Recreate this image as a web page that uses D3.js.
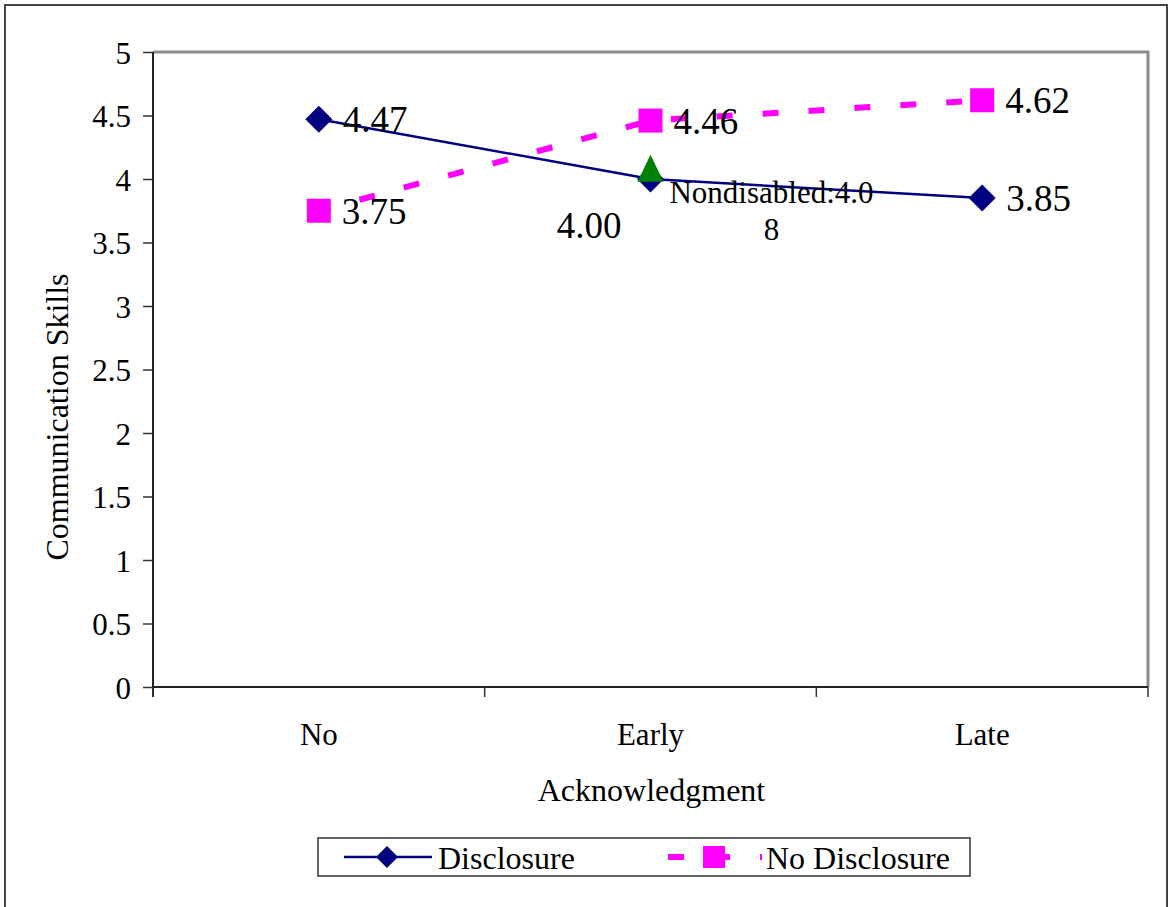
<!DOCTYPE html>
<html>
<head>
<meta charset="utf-8">
<script src="https://cdn.jsdelivr.net/npm/d3@7"></script>
<style>
  body { margin: 0; background: #fff; }
  svg { display: block; }
  text { font-family: "Liberation Serif", "Times New Roman", serif; fill: #000; }
</style>
</head>
<body>
<svg width="1168" height="907"></svg>
<script>
// data
var categories = ["No", "Early", "Late"];
var disclosure = [4.47, 4.00, 3.85];
var noDisclosure = [3.75, 4.46, 4.62];
var nondisabledCat = "Early";
var nondisabledVal = 4.08;
var yTicks = [0, 0.5, 1, 1.5, 2, 2.5, 3, 3.5, 4, 4.5, 5];
var seriesNames = ["Disclosure", "No Disclosure"];

var svg = d3.select("svg");
var plot = {left: 153, right: 1148, top: 52, bottom: 687};

var x = d3.scaleBand().domain(categories).range([plot.left, plot.right]).padding(0);
var y = d3.scaleLinear().domain([0, 5]).range([plot.bottom, plot.top]);
var cx = function(c) { return x(c) + x.bandwidth() / 2; };

// outer frame
svg.append("rect")
    .attr("x", 5).attr("y", 5)
    .attr("width", 1162).attr("height", 920)
    .attr("fill", "none").attr("stroke", "#444").attr("stroke-width", 2);

// plot border (top/right gray)
svg.append("path")
    .attr("d", "M" + plot.left + "," + plot.top + "H" + plot.right + "V" + plot.bottom)
    .attr("fill", "none").attr("stroke", "#8c8c8c").attr("stroke-width", 3);

// y axis
var yAxis = d3.axisLeft(y).tickValues(yTicks).tickSize(10).tickSizeOuter(0)
    .tickPadding(12).tickFormat(d3.format(""));
var gy = svg.append("g").attr("transform", "translate(" + plot.left + ",0)").call(yAxis);
gy.attr("font-family", null);
gy.select(".domain").remove();
gy.selectAll("line").attr("stroke", "#333").attr("stroke-width", 1.5);
gy.selectAll("text").style("font-size", "31px").attr("dy", "0.36em");

svg.append("line")
    .attr("x1", plot.left).attr("x2", plot.left)
    .attr("y1", plot.top).attr("y2", plot.bottom + 10)
    .attr("stroke", "#222").attr("stroke-width", 2);

// x axis
var xAxis = d3.axisBottom(x).tickSize(0).tickPadding(58);
var gx = svg.append("g").attr("transform", "translate(0," + plot.bottom + ")").call(xAxis);
gx.attr("font-family", null);
gx.select(".domain").remove();
gx.selectAll("text").style("font-size", "31px").attr("dy", "0");

svg.append("line")
    .attr("x1", plot.left).attr("x2", plot.right)
    .attr("y1", plot.bottom).attr("y2", plot.bottom)
    .attr("stroke", "#222").attr("stroke-width", 2);

var bounds = categories.map(function(c) { return x(c); }).concat([x.range()[1]]);
svg.selectAll(".xtick").data(bounds).enter().append("line")
    .attr("class", "xtick")
    .attr("x1", function(d) { return d; }).attr("x2", function(d) { return d; })
    .attr("y1", plot.bottom).attr("y2", plot.bottom + 10)
    .attr("stroke", "#333").attr("stroke-width", 1.5);

// axis titles
svg.append("text")
    .attr("x", (plot.left + plot.right) / 2 + 1).attr("y", 801)
    .attr("text-anchor", "middle").style("font-size", "32px")
    .text("Acknowledgment");

svg.append("text")
    .attr("transform", "translate(68,417) rotate(-90)")
    .attr("text-anchor", "middle").style("font-size", "32px")
    .text("Communication Skills");

// lines
var line = d3.line()
    .x(function(d, i) { return cx(categories[i]); })
    .y(function(d) { return y(d); });

svg.append("path")
    .datum(noDisclosure)
    .attr("d", line)
    .attr("fill", "none").attr("stroke", "#ff00ff").attr("stroke-width", 6)
    .attr("stroke-dasharray", "16,30").attr("stroke-dashoffset", -42);

svg.append("path")
    .datum(disclosure)
    .attr("d", line)
    .attr("fill", "none").attr("stroke", "#000080").attr("stroke-width", 2.5);

// markers
var diamond = function(s) { return "M0," + (-s) + "L" + s + ",0L0," + s + "L" + (-s) + ",0Z"; };

svg.selectAll(".dmark").data(disclosure).enter().append("path")
    .attr("class", "dmark")
    .attr("transform", function(d, i) { return "translate(" + cx(categories[i]) + "," + y(d) + ")"; })
    .attr("d", diamond(13.5))
    .attr("fill", "#000080");

svg.selectAll(".smark").data(noDisclosure).enter().append("rect")
    .attr("class", "smark")
    .attr("x", function(d, i) { return cx(categories[i]) - 12; })
    .attr("y", function(d) { return y(d) - 12; })
    .attr("width", 24).attr("height", 24)
    .attr("fill", "#ff00ff");

// nondisabled reference
var tx = cx(nondisabledCat), ty = y(nondisabledVal);
svg.append("path")
    .attr("d", "M" + tx + "," + (ty - 14) + "L" + (tx + 13) + "," + (ty + 13) + "L" + (tx - 13) + "," + (ty + 13) + "Z")
    .attr("fill", "#008000");

var ndLabel = "Nondisabled:" + nondisabledVal.toFixed(2);
var ndText = svg.append("text")
    .attr("text-anchor", "middle").style("font-size", "31px");
ndText.append("tspan").attr("x", tx + 121).attr("y", ty + 34).text(ndLabel.slice(0, 15));
ndText.append("tspan").attr("x", tx + 121).attr("y", ty + 71).text(ndLabel.slice(15));

// data labels
var fmt = d3.format(".2f");
svg.selectAll(".dlab").data(disclosure).enter().append("text")
    .attr("class", "dlab")
    .attr("x", function(d, i) { return categories[i] === "Early" ? cx(categories[i]) - 29 : cx(categories[i]) + 24; })
    .attr("y", function(d, i) { return categories[i] === "Early" ? y(d) + 59 : y(d) + 13; })
    .attr("text-anchor", function(d, i) { return categories[i] === "Early" ? "end" : "start"; })
    .style("font-size", "37px")
    .text(function(d) { return fmt(d); });

svg.selectAll(".nlab").data(noDisclosure).enter().append("text")
    .attr("class", "nlab")
    .attr("x", function(d, i) { return cx(categories[i]) + 23; })
    .attr("y", function(d) { return y(d) + 13; })
    .style("font-size", "37px")
    .text(function(d) { return fmt(d); });

// legend
var lg = svg.append("g");
lg.append("rect")
    .attr("x", 318).attr("y", 838).attr("width", 652).attr("height", 38)
    .attr("fill", "#fff").attr("stroke", "#333").attr("stroke-width", 1.5);

lg.append("line")
    .attr("x1", 344).attr("x2", 432).attr("y1", 857).attr("y2", 857)
    .attr("stroke", "#000080").attr("stroke-width", 2.5);
lg.append("path")
    .attr("transform", "translate(387,857)")
    .attr("d", diamond(11))
    .attr("fill", "#000080");
lg.append("text").attr("x", 438).attr("y", 869).style("font-size", "32px").text(seriesNames[0]);

lg.append("line")
    .attr("x1", 668).attr("x2", 762).attr("y1", 857).attr("y2", 857)
    .attr("stroke", "#ff00ff").attr("stroke-width", 6)
    .attr("stroke-dasharray", "16,30");
lg.append("rect")
    .attr("x", 703).attr("y", 846).attr("width", 22).attr("height", 22)
    .attr("fill", "#ff00ff");
lg.append("text").attr("x", 766).attr("y", 869).style("font-size", "32px").text(seriesNames[1]);
</script>
</body>
</html>
